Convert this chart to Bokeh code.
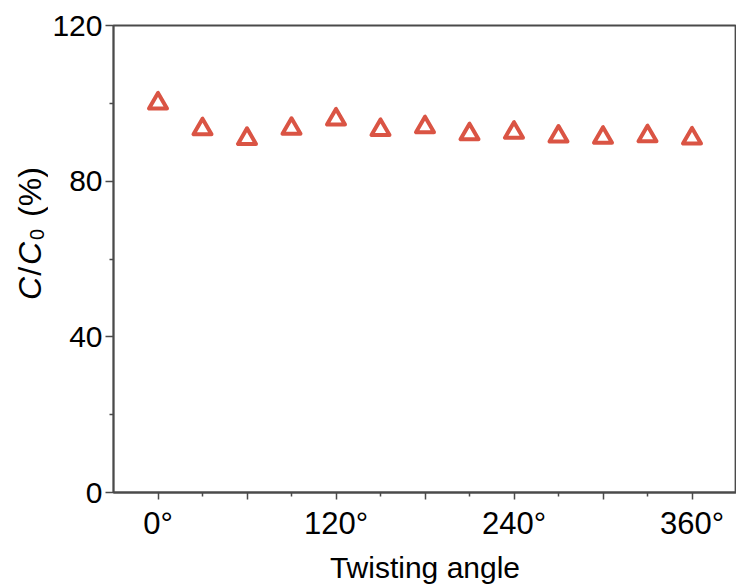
import math
from bokeh.plotting import figure
from bokeh.layouts import row
from bokeh.models import FixedTicker, Range1d, Label
from bokeh.embed import file_html
from bokeh.resources import INLINE

# ---- data ----
angles = [0, 30, 60, 90, 120, 150, 180, 210, 240, 270, 300, 330, 360]
retention = [100.0, 93.4, 90.9, 93.5, 95.9, 93.2, 93.9, 92.1, 92.5, 91.5, 91.2, 91.6, 91.0]
x_major = [0, 60, 120, 180, 240, 300, 360]
x_minor = [30, 90, 150, 210, 270, 330]
x_labels = {0: "0°", 60: "", 120: "120°", 180: "", 240: "240°", 300: "", 360: "360°"}
y_major = [0, 40, 80, 120]
y_minor = [20, 60, 100]

FONT = "Liberation Sans"
AX = "#4a4a4a"
RED = "#DA5444"

H = 585
FH = 467  # frame height
LW = 48   # width of the strip that holds the y-axis title

p = figure(output_backend="svg", toolbar_location=None,
           frame_width=623, frame_height=FH,
           x_range=Range1d(-30, 390), y_range=Range1d(0, 120),
           min_border_left=113 - LW, min_border_top=25, min_border_bottom=93,
           min_border_right=0)
p.grid.visible = False
p.outline_line_color = AX
p.outline_line_width = 1.8
p.background_fill_color = "white"
p.border_fill_color = "white"

p.scatter(angles, retention, marker="triangle", size=18, fill_color=None,
          line_color=RED, line_width=4, line_join="round")

xa = p.xaxis[0]
xa.ticker = FixedTicker(ticks=x_major, minor_ticks=x_minor)
xa.major_label_overrides = x_labels
xa.axis_label = "Twisting angle"
xa.axis_label_text_font = FONT
xa.axis_label_text_font_size = "30px"
xa.axis_label_text_font_style = "normal"
xa.axis_label_text_color = "black"
xa.axis_label_standoff = 7

ya = p.yaxis[0]
ya.ticker = FixedTicker(ticks=y_major, minor_ticks=y_minor)

for ax in (xa, ya):
    ax.axis_line_color = AX
    ax.axis_line_width = 1.8
    ax.major_tick_line_color = AX
    ax.minor_tick_line_color = AX
    ax.major_tick_line_width = 1.5
    ax.minor_tick_line_width = 1.5
    ax.major_tick_in = 0
    ax.minor_tick_in = 0
    ax.major_label_text_font = FONT
    ax.major_label_text_font_size = "31px"
    ax.major_label_text_color = "black"
    ax.major_label_standoff = 6
ya.major_label_text_font_size = "30px"
ya.major_label_standoff = 3
xa.major_tick_out = 7
xa.minor_tick_out = 4
ya.major_tick_out = 8
ya.minor_tick_out = 4

# ---- strip on the left carrying the y-axis title C/C0 (%) ----
# its frame is aligned with the main frame (25..492 px from the top)
t = figure(output_backend="svg", toolbar_location=None, width=LW, height=H,
           x_range=Range1d(0, LW), y_range=Range1d(0, FH),
           x_axis_type=None, y_axis_type=None, min_border=0)
t.grid.visible = False
t.outline_line_color = None
t.background_fill_color = "white"
t.border_fill_color = "white"

F = 32
SUB = 20
MID = 0.3465  # (ascent - descent) / 2 in em: distance from middle to baseline
pieces = [  # text, size, style, advance after, baseline drop
    ("C", F, "italic", 0.722 * F + 1, 0),
    ("/", F, "normal", 0.278 * F + 2, 0),
    ("C", F, "italic", 0.722 * F + 2, 0),
    ("0", SUB, "normal", 0.556 * SUB + 0.278 * F + 3, 2),
    ("(%)", F, "normal", 0, 0),
]
start = 492 - 300   # label start, pixels up from the frame bottom
base_x = 41         # baseline position in the strip
for txt, fs, style, adv, drop in pieces:
    t.add_layout(Label(x=base_x + drop - MID * fs, y=start, x_units="data", y_units="data",
                       angle=math.pi / 2,
                       text=txt, text_font=FONT, text_font_size=f"{fs}px",
                       text_font_style=style, text_color="black",
                       text_align="left", text_baseline="middle"))
    start += adv

layout = row(t, p, spacing=0)
open("out.html", "w").write(file_html(layout, INLINE))
